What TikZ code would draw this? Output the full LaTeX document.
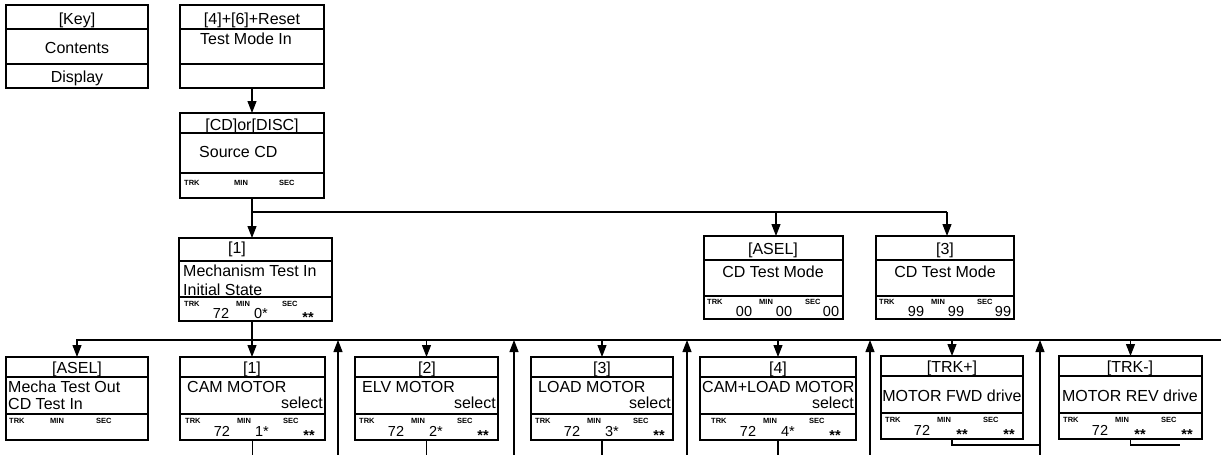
\documentclass[tikz,border=0pt]{standalone}
\usepackage{fontspec}
\setmainfont{Liberation Sans}
\usetikzlibrary{arrows.meta}
\tikzset{
  frame/.style={draw, line width=1.6pt, inner sep=0pt, outer sep=0pt, anchor=north west},
  rule/.style={line width=1.3pt},
  conn/.style={line width=1.1pt},
  arr/.style={conn, -{Triangle[length=12pt,width=9pt]}},
  maintxt/.style={inner sep=0pt, font=\fontsize{16}{18}\selectfont},
  hdr/.style={maintxt, anchor=base},
  lft/.style={maintxt, anchor=base west},
  rgt/.style={maintxt, anchor=base east},
  lbl/.style={inner sep=0pt, anchor=base west, font=\fontsize{7.5}{8}\selectfont\bfseries},
  val/.style={inner sep=0pt, anchor=base, font=\fontsize{14.5}{16}\selectfont},
}
\newcommand\panel[7]{%
  \node[frame, minimum width={#4-#2}, minimum height={#5-#3}] (#1) at (#2,#3) {};
  \draw[rule] (#2,#6) -- (#4,#6) (#2,#7) -- (#4,#7);
}
\newcommand\labs[5]{% prefix, baseline y, x TRK, x MIN, x SEC
  \node[lbl] (#1t) at (#3,#2) {TRK};
  \node[lbl] (#1m) at (#4,#2) {MIN};
  \node[lbl] (#1s) at (#5,#2) {SEC};
}
\newcommand\vals[7]{% prefix, left x, label base, value base, v1, v2, v3
  \labs{#1}{#3}{#2+3}{#2+55}{#2+101}
  \node[val] (#1a) at ({#2+40},#4) {#5};
  \node[val] (#1b) at ({#2+80},#4) {#6};
  \node[val] (#1c) at ({#2+127},#4) {#7};
}
\newcommand\stars{\raisebox{-4pt}{\bfseries**}}
\begin{document}
\begin{tikzpicture}[x=1pt,y=-1pt]
\fill[white] (0,0) rectangle (1221,455);
\useasboundingbox (0,0) rectangle (1221,455);

% key box
\panel{key}{6}{5}{148}{88}{29}{64}
\node[hdr] (keyh) at (77,24) {[Key]};
\node[hdr] (keyc) at (77,53) {Contents};
\node[hdr] (keyd) at (77,82) {Display};

% test mode in
\panel{tm}{180}{5}{324}{88}{29}{64}
\node[hdr] (tmh) at (252,24) {[4]+[6]+Reset};
\node[lft] (tmt) at (200,44) {Test Mode In};

% source CD
\panel{cd}{180}{113}{324}{198}{133}{173}
\node[hdr] (cdh) at (252,130) {[CD]or[DISC]};
\node[lft] (cdt) at (199,157) {Source CD};
\labs{cd}{185}{184}{234}{279}

% mechanism test in
\panel{mech}{179}{238}{332}{321}{261}{297}
\node[hdr] (mechh) at (237,253) {[1]};
\node[lft] (mecht1) at (183,276) {Mechanism Test In};
\node[lft] (mecht2) at (183,295) {Initial State};
\vals{mech}{181}{306}{318}{72}{0*}{\stars}

% CD test mode boxes
\panel{cdta}{704}{236}{843}{319}{260}{296}
\node[hdr] (cdtah) at (773,254) {[ASEL]};
\node[hdr] (cdtat) at (773,277) {CD Test Mode};
\vals{cdta}{704}{304}{316}{00}{00}{00}

\panel{cdtb}{876}{236}{1014}{319}{260}{296}
\node[hdr] (cdtbh) at (945,254) {[3]};
\node[hdr] (cdtbt) at (945,277) {CD Test Mode};
\vals{cdtb}{876}{304}{316}{99}{99}{99}

% bottom row
\panel{asel}{6}{357}{148}{440}{377}{414}
\node[hdr] (aselh) at (77,373) {[ASEL]};
\node[lft] (aselt1) at (8,392) {Mecha Test Out};
\node[lft] (aselt2) at (8,409) {CD Test In};
\labs{asel}{423}{9}{50}{96}

\panel{cam}{180}{357}{325}{440}{377}{414}
\node[hdr] (camh) at (252,373) {[1]};
\node[lft] (camt) at (187,392) {CAM MOTOR};
\node[rgt] (cams) at (323,408) {select};
\vals{cam}{182}{423}{436}{72}{1*}{\stars}

\panel{elv}{355}{357}{498}{440}{377}{414}
\node[hdr] (elvh) at (427,373) {[2]};
\node[lft] (elvt) at (362,392) {ELV MOTOR};
\node[rgt] (elvs) at (496,408) {select};
\vals{elv}{356}{423}{436}{72}{2*}{\stars}

\panel{load}{531}{357}{673}{440}{377}{414}
\node[hdr] (loadh) at (602,373) {[3]};
\node[lft] (loadt) at (538,392) {LOAD MOTOR};
\node[rgt] (loads) at (671,408) {select};
\vals{load}{532}{423}{436}{72}{3*}{\stars}

\panel{cl}{700}{357}{856}{440}{377}{414}
\node[hdr] (clh) at (778,373) {[4]};
\node[lft] (clt) at (702,392) {CAM+LOAD MOTOR};
\node[rgt] (cls) at (854,408) {select};
\vals{cl}{708}{423}{436}{72}{4*}{\stars}

\panel{fwd}{881}{356}{1023}{439}{376}{413}
\node[hdr] (fwdh) at (952,372) {[TRK+]};
\node[hdr] (fwdt) at (952,401) {MOTOR FWD drive};
\vals{fwd}{882}{422}{435}{72}{\stars}{\stars}

\panel{rev}{1059}{356}{1202}{439}{376}{413}
\node[hdr] (revh) at (1130,372) {[TRK-]};
\node[hdr] (revt) at (1130,401) {MOTOR REV drive};
\vals{rev}{1060}{422}{435}{72}{\stars}{\stars}

% connectors
\coordinate (floor) at (0,455);
\coordinate (lowline) at (0,445);
\coordinate (j1) at (251,212);
\coordinate (j2) at (947,212);
\coordinate (j3) at (776,212);
\coordinate (b0) at (77,340);
\coordinate (bR) at (1221,340);

\draw[arr] (tm.south) -- (cd.south |- cd.north);
\draw[conn] (cd.south) -- (cd.south |- j1);
\draw[arr] (cd.south |- j1) -- (cd.south |- mech.north);
\draw[conn] (cd.south |- j1) -- (j2);
\draw[arr] (j2) -- (j2 |- cdtb.north);
\draw[arr] (j3) -- (j3 |- cdta.north);

\draw[arr] (bR) -- (b0) -- (b0 |- asel.north);
\draw[arr] (cd.south |- mech.south) -- (cd.south |- cam.north);
\foreach \n in {elv,load,cl,fwd,rev}
  \draw[arr] (\n.north |- bR) -- (\n.north);
\foreach \n in {cam,elv,load,cl}
  \draw[conn] (\n.south) -- (\n.south |- floor);
\foreach \x/\nm in {338/u1,514/u2,687/u3,870/u4,1040/u5}{
  \coordinate (\nm) at (\x,455);
  \draw[arr] (\nm) -- (\nm |- bR);
}
\coordinate (fwdend) at (1040,445);
\coordinate (revend) at (1180,445);
\draw[conn] (fwd.south) -- (fwd.south |- lowline) -- (fwdend);
\draw[conn] (rev.south) -- (rev.south |- lowline) -- (revend);
\end{tikzpicture}
\end{document}
